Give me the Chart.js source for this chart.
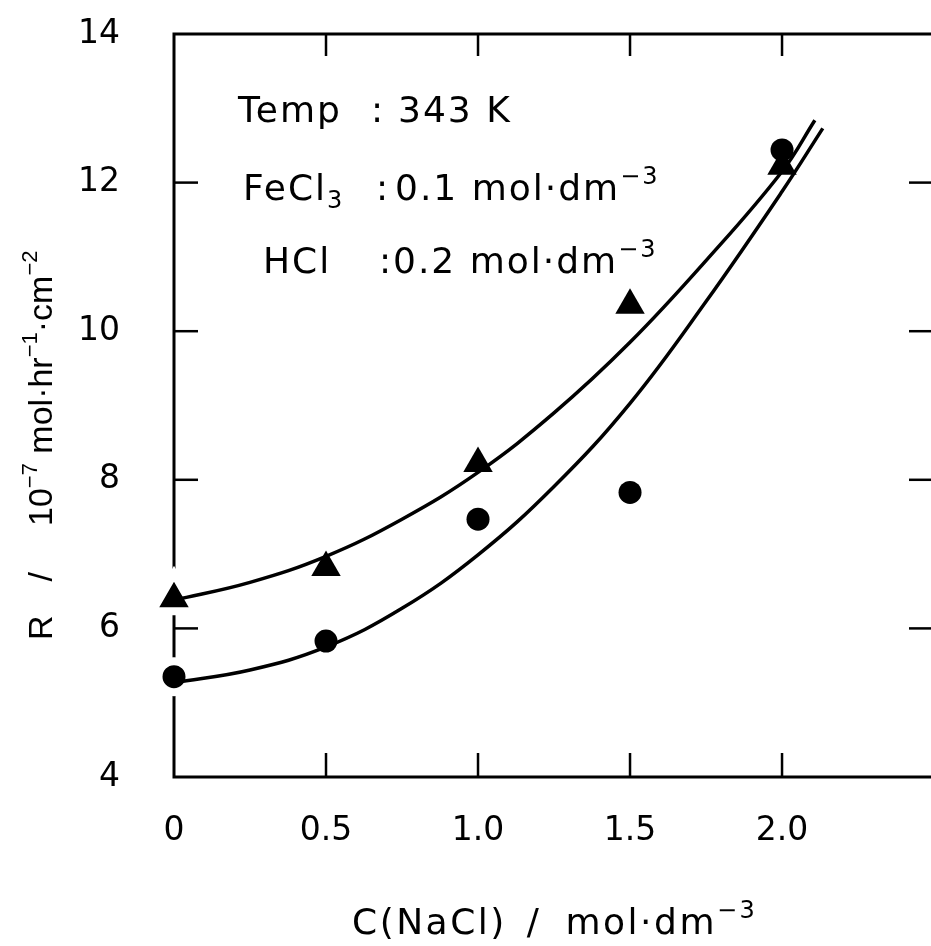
<!DOCTYPE html>
<html>
<head>
<meta charset="utf-8">
<script src="https://cdn.jsdelivr.net/npm/chart.js@4.4.1/dist/chart.umd.min.js"></script>
<style>
  html, body { margin: 0; padding: 0; background: #fff; overflow: hidden; }
  #wrap { width: 931px; height: 946px; }
</style>
</head>
<body>
<div id="wrap"><canvas id="myChart" width="931" height="946"></canvas></div>
<script>
// measured points
const concNaCl = [0, 0.5, 1.0, 1.5, 2.0];
const rateTriangle = [6.40, 6.82, 8.22, 10.35, 12.22];
const rateCircle = [5.35, 5.83, 7.47, 7.83, 12.44];

// hand drawn fit curves
const upperFitX = [0, 0.25, 0.5, 0.75, 1.0, 1.25, 1.5, 1.75, 2.0, 2.108];
const upperFitY = [6.38, 6.62, 6.97, 7.47, 8.10, 8.90, 9.85, 10.95, 12.15, 12.84];
const lowerFitX = [0, 0.25, 0.5, 0.75, 1.0, 1.25, 1.5, 1.75, 2.0, 2.134];
const lowerFitY = [5.27, 5.44, 5.75, 6.27, 6.99, 7.91, 9.03, 10.40, 11.88, 12.73];

const xTicks = [0, 0.5, 1.0, 1.5, 2.0];
const xTickLabels = ['0', '0.5', '1.0', '1.5', '2.0'];
const yTicks = [4, 6, 8, 10, 12, 14];

const FONT = "'DejaVu Sans', sans-serif";
const NARROW = "'Liberation Sans', Arial, sans-serif";

const toXY = (xs, ys) => xs.map((x, i) => ({ x: x, y: ys[i] }));

// text with super/subscripts: runs = [[text, 'n'|'sup'|'sub'|'gap'], ...]
function runFont(size, kind, fam) {
  return (kind === 'n' ? size : Math.round(size * 0.66)) + 'px ' + fam;
}
function runWidth(ctx, t, k, size, fam) {
  if (k === 'gap') return t;
  ctx.font = runFont(size, k, fam);
  return ctx.measureText(t).width;
}
function drawRuns(ctx, runs, x, y, size, fam) {
  fam = fam || FONT;
  runs.forEach(([t, k]) => {
    if (k !== 'gap') {
      ctx.font = runFont(size, k, fam);
      let dy = 0;
      if (k === 'sup') dy = -size * 0.45;
      if (k === 'sub') dy = size * 0.22;
      ctx.fillText(t, x, y + dy);
    }
    x += runWidth(ctx, t, k, size, fam);
  });
  return x;
}

const framePlugin = {
  id: 'frame',
  beforeDatasetsDraw(chart) {
    const { ctx, chartArea: a, scales: { x, y } } = chart;
    const seg = (x1, y1, x2, y2) => { ctx.beginPath(); ctx.moveTo(x1, y1); ctx.lineTo(x2, y2); ctx.stroke(); };
    ctx.save();
    ctx.strokeStyle = '#000';
    ctx.lineWidth = 3;
    ctx.beginPath();
    ctx.moveTo(a.right + 3, a.top);
    ctx.lineTo(a.left, a.top);
    ctx.lineTo(a.left, a.bottom);
    ctx.lineTo(a.right + 3, a.bottom);
    ctx.stroke();
    ctx.lineWidth = 2.5;
    yTicks.slice(1, -1).forEach(v => {
      const py = y.getPixelForValue(v);
      seg(a.left, py, a.left + 24, py);
      seg(a.right, py, a.right - 22, py);
    });
    xTicks.slice(1).forEach(v => {
      const px = x.getPixelForValue(v);
      seg(px, a.bottom, px, a.bottom - 24);
      seg(px, a.top, px, a.top + 22);
    });
    ctx.restore();
  }
};

const textPlugin = {
  id: 'texts',
  afterDraw(chart) {
    const { ctx } = chart;
    ctx.save();
    ctx.fillStyle = '#000';
    ctx.textBaseline = 'alphabetic';
    ctx.textAlign = 'left';
    ctx.letterSpacing = '2px';

    // conditions block
    const s = 36;
    drawRuns(ctx, [['Temp', 'n']], 238, 122, s);
    drawRuns(ctx, [[':', 'n']], 371, 122, s);
    drawRuns(ctx, [['343 K', 'n']], 398, 122, s);

    drawRuns(ctx, [['FeCl', 'n'], ['3', 'sub']], 243, 200, s);
    drawRuns(ctx, [[':', 'n']], 376, 200, s);
    drawRuns(ctx, [['0.1 mol\u00b7dm', 'n'], ['\u22123', 'sup']], 395, 200, s);

    drawRuns(ctx, [['HCl', 'n']], 263, 273, s);
    drawRuns(ctx, [[':', 'n']], 379, 273, s);
    drawRuns(ctx, [['0.2 mol\u00b7dm', 'n'], ['\u22123', 'sup']], 393, 273, s);

    // x axis title
    ctx.letterSpacing = '2.5px';
    drawRuns(ctx, [['C(NaCl)', 'n'], [20, 'gap'], ['/', 'n'], [24, 'gap'], ['mol\u00b7dm', 'n'], ['\u22123', 'sup']], 352, 934, 36);

    // y axis title, rotated
    ctx.letterSpacing = '0px';
    const yt = [['R', 'n'], [34, 'gap'], ['/', 'n'], [46, 'gap'], ['10', 'n'], ['\u22127', 'sup'], [' mol\u00b7hr', 'n'], ['\u22121', 'sup'], ['\u00b7cm', 'n'], ['\u22122', 'sup']];
    ctx.translate(52, 640);
    ctx.rotate(-Math.PI / 2);
    drawRuns(ctx, yt, 0, 0, 34, NARROW);
    ctx.restore();
  }
};

const zeroPad = s => { s.paddingTop = 0; s.paddingBottom = 0; s.paddingLeft = 0; s.paddingRight = 0; };

const ctx = document.getElementById('myChart').getContext('2d');

const myChart = new Chart(ctx, {
  type: 'scatter',
  data: {
    datasets: [
      {
        label: 'fit (triangles)',
        type: 'line',
        data: toXY(upperFitX, upperFitY),
        borderColor: '#000',
        borderWidth: 3.5,
        pointRadius: 0,
        fill: false,
        tension: 0.4,
        order: 0
      },
      {
        label: 'fit (circles)',
        type: 'line',
        data: toXY(lowerFitX, lowerFitY),
        borderColor: '#000',
        borderWidth: 3.5,
        pointRadius: 0,
        fill: false,
        tension: 0.4,
        order: 0
      },
      {
        label: 'triangles',
        data: toXY(concNaCl, rateTriangle),
        pointStyle: 'triangle',
        pointRadius: [25, 17, 17, 17, 17],
        pointBorderWidth: [8, 0, 0, 0, 0],
        pointBorderColor: '#fff',
        pointBackgroundColor: '#000',
        order: 1
      },
      {
        label: 'circles',
        data: toXY(concNaCl, rateCircle),
        pointStyle: 'circle',
        pointRadius: [15.5, 11.5, 11.5, 11.5, 11.5],
        pointBorderWidth: [8, 0, 0, 0, 0],
        pointBorderColor: '#fff',
        pointBackgroundColor: '#000',
        order: 1
      }
    ]
  },
  options: {
    responsive: false,
    animation: false,
    devicePixelRatio: 1,
    clip: false,
    layout: { autoPadding: false, padding: { top: 34, right: 0, left: 0, bottom: 0 } },
    plugins: {
      legend: { display: false },
      tooltip: { enabled: false }
    },
    scales: {
      x: {
        type: 'linear',
        min: 0,
        max: 2.49,
        grid: { display: false, drawTicks: false },
        border: { display: false },
        afterBuildTicks: s => { s.ticks = xTicks.map(v => ({ value: v })); },
        afterFit: s => { s.height = 946 - 777; zeroPad(s); },
        ticks: {
          padding: 35,
          color: '#000',
          font: { family: FONT, size: 33 },
          callback: (v) => xTickLabels[xTicks.indexOf(v)]
        }
      },
      y: {
        type: 'linear',
        min: 4,
        max: 14,
        grid: { display: false, drawTicks: false },
        border: { display: false },
        afterBuildTicks: s => { s.ticks = yTicks.map(v => ({ value: v })); },
        afterFit: s => { s.width = 174; zeroPad(s); },
        ticks: {
          padding: 54,
          color: '#000',
          font: { family: FONT, size: 33 }
        }
      }
    }
  },
  plugins: [framePlugin, textPlugin]
});
</script>
</body>
</html>
